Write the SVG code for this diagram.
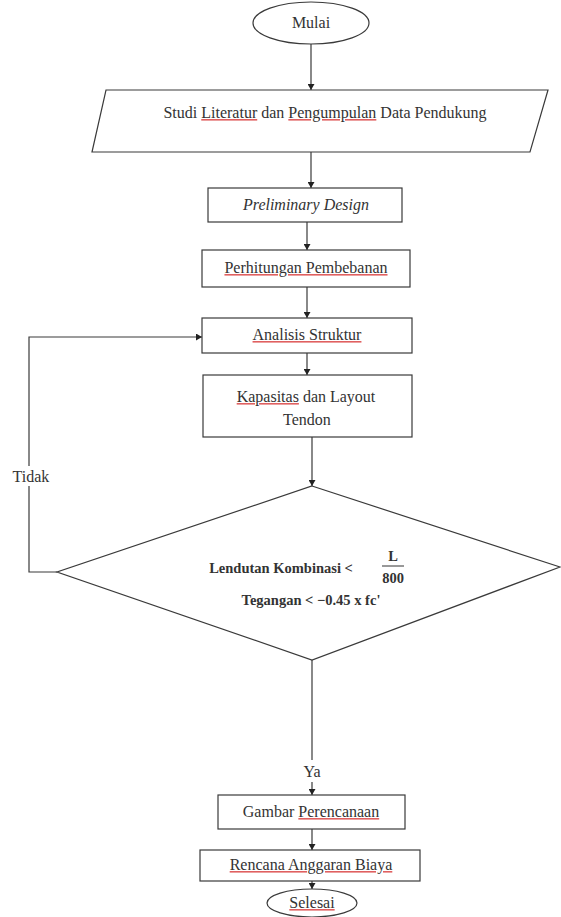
<svg xmlns="http://www.w3.org/2000/svg" width="561" height="917" viewBox="0 0 561 917">
<style>
.s{fill:#fff;stroke:#3a3a3a;stroke-width:1.2}
.c{fill:none;stroke:#3a3a3a;stroke-width:1.2}
.t{font-family:"Liberation Serif","Times New Roman",serif;font-size:16px;fill:#333;text-anchor:middle}
.b{font-weight:bold;font-size:14.5px}
.i{font-style:italic}
.sp{text-decoration:underline;fill:#e06060}
.w{fill:#333}
.lb{fill:#fff;stroke:none}
</style>
<defs>
<marker id="ah" markerUnits="userSpaceOnUse" markerWidth="7" markerHeight="7" refX="6" refY="3.5" orient="auto">
<path d="M0,0 L6,3.5 L0,7 z" fill="#222"/>
</marker>
</defs>
<g id="connectors">
<line class="c" x1="311" y1="44" x2="311" y2="90" marker-end="url(#ah)"/>
<line class="c" x1="311" y1="152" x2="311" y2="188" marker-end="url(#ah)"/>
<line class="c" x1="307" y1="222" x2="307" y2="250" marker-end="url(#ah)"/>
<line class="c" x1="307" y1="287" x2="307" y2="318" marker-end="url(#ah)"/>
<line class="c" x1="307" y1="353" x2="307" y2="375" marker-end="url(#ah)"/>
<line class="c" x1="312" y1="437" x2="312" y2="486" marker-end="url(#ah)"/>
<polyline class="c" points="57,572 29,572 29,337 202,337" marker-end="url(#ah)"/>
<rect class="lb" x="8" y="466" width="44" height="20"/>
<text class="t" x="31" y="482">Tidak</text>
<line class="c" x1="312" y1="660" x2="312" y2="795" marker-end="url(#ah)"/>
<rect class="lb" x="300" y="760" width="24" height="22"/>
<text class="t" x="312" y="777">Ya</text>
<line class="c" x1="312" y1="829" x2="312" y2="850" marker-end="url(#ah)"/>
<line class="c" x1="312" y1="881" x2="312" y2="889" marker-end="url(#ah)"/>
</g>
<g id="mulai">
<ellipse class="s" cx="311" cy="23" rx="58" ry="21"/>
<text class="t" x="311" y="28">Mulai</text>
</g>
<g id="studi">
<polygon class="s" points="106,90 548,90 530,152 92,152"/>
<text class="t" x="325" y="118">Studi <tspan class="sp"><tspan class="w">Literatur</tspan></tspan> dan <tspan class="sp"><tspan class="w">Pengumpulan</tspan></tspan> Data Pendukung</text>
</g>
<g id="preliminary">
<rect class="s" x="208" y="188" width="194" height="34"/>
<text class="t i" x="306" y="210">Preliminary Design</text>
</g>
<g id="perhitungan">
<rect class="s" x="202" y="250" width="208" height="37"/>
<text class="t" x="306" y="273"><tspan class="sp"><tspan class="w">Perhitungan Pembebanan</tspan></tspan></text>
</g>
<g id="analisis">
<rect class="s" x="202" y="318" width="210" height="35"/>
<text class="t" x="307" y="340"><tspan class="sp"><tspan class="w">Analisis Struktur</tspan></tspan></text>
</g>
<g id="kapasitas">
<rect class="s" x="203" y="375" width="209" height="62"/>
<text class="t" x="306" y="402"><tspan class="sp"><tspan class="w">Kapasitas</tspan></tspan> dan Layout</text>
<text class="t" x="307" y="425">Tendon</text>
</g>
<g id="cek">
<polygon class="s" points="312,486 560,567 312,660 57,572"/>
<text class="t b" x="281" y="573">Lendutan Kombinasi &lt;</text>
<text class="t b" x="393" y="561">L</text>
<line x1="382" y1="566" x2="404" y2="566" stroke="#333" stroke-width="1"/>
<text class="t b" x="393" y="583">800</text>
<text class="t b" x="311" y="605">Tegangan &lt; −0.45 x fc'</text>
</g>
<g id="gambar">
<rect class="s" x="218" y="795" width="187" height="34"/>
<text class="t" x="311" y="817">Gambar <tspan class="sp"><tspan class="w">Perencanaan</tspan></tspan></text>
</g>
<g id="rab">
<rect class="s" x="200" y="850" width="220" height="31"/>
<text class="t" x="311" y="870"><tspan class="sp"><tspan class="w">Rencana Anggaran Biaya</tspan></tspan></text>
</g>
<g id="selesai">
<ellipse class="s" cx="312" cy="903" rx="45" ry="14"/>
<text class="t" x="312" y="908"><tspan class="sp"><tspan class="w">Selesai</tspan></tspan></text>
</g>
</svg>
